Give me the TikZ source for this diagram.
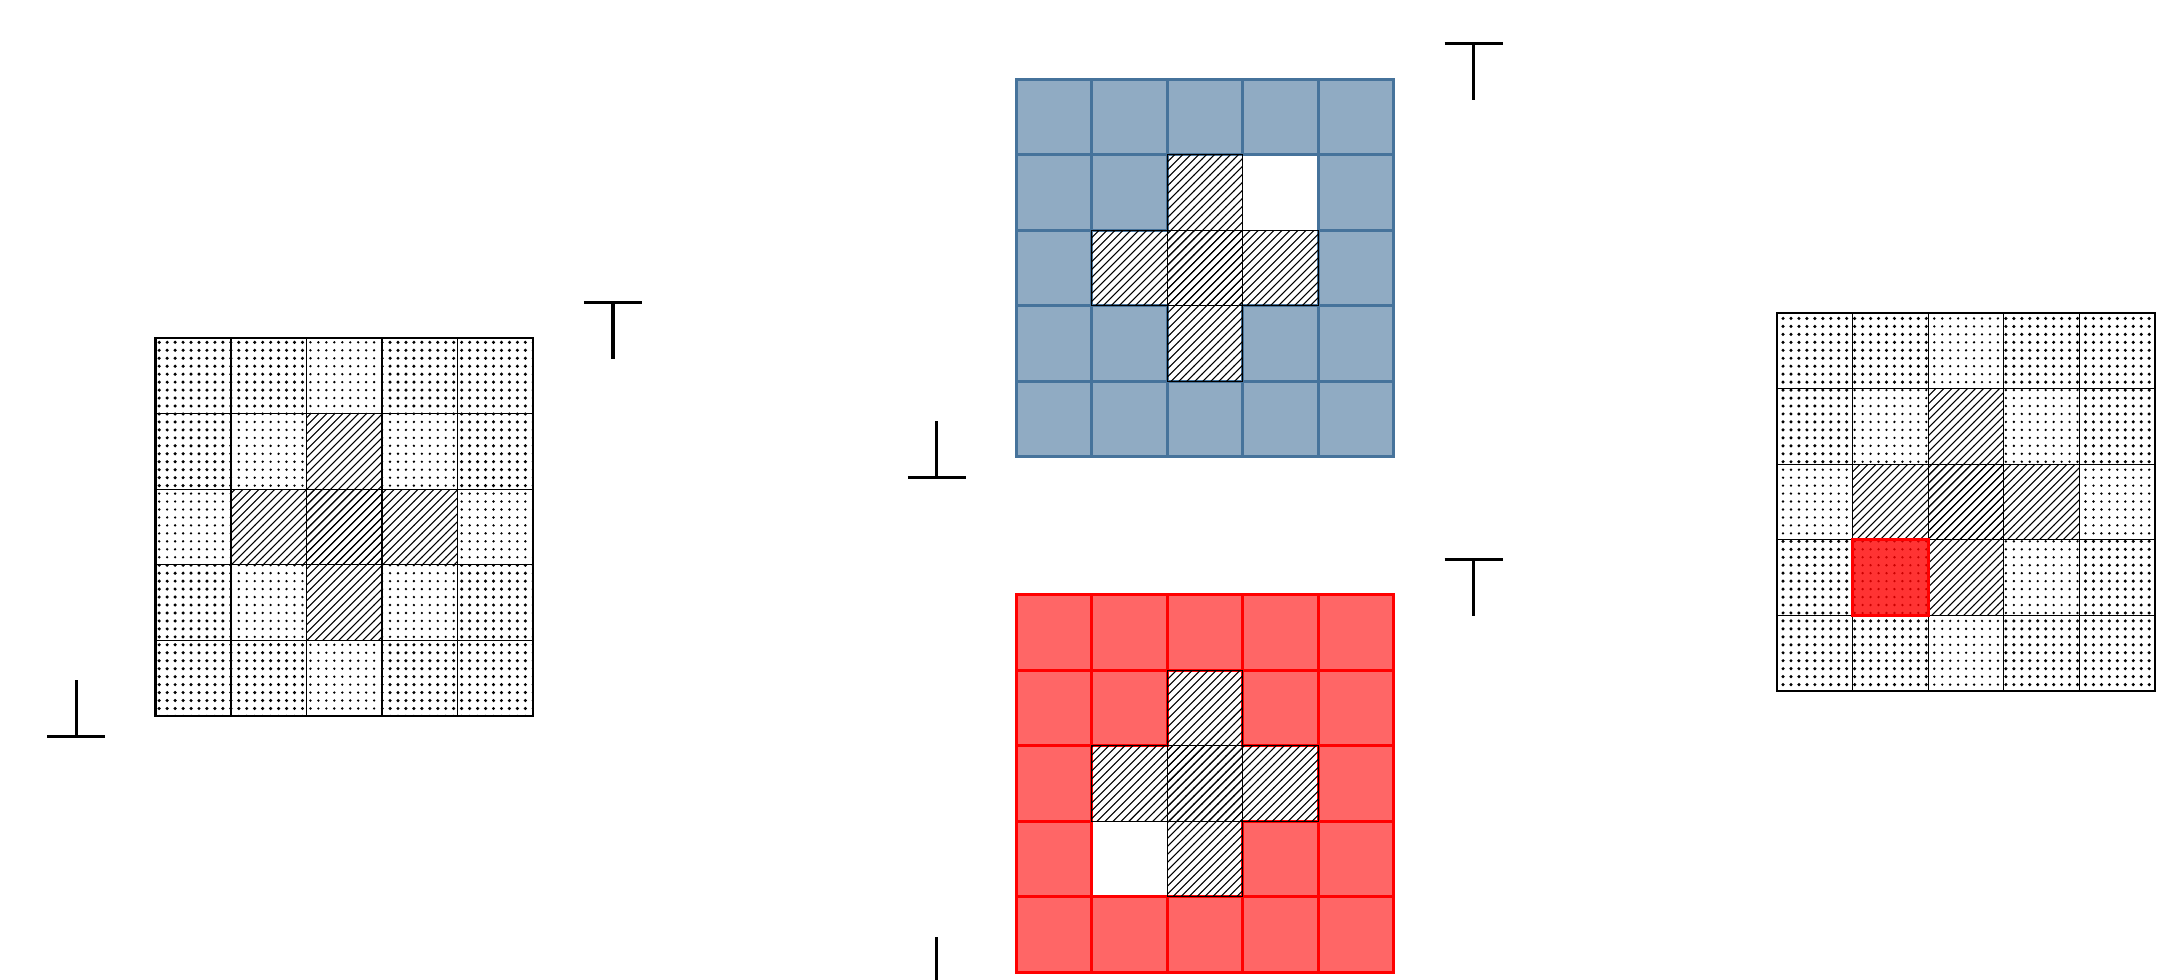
\documentclass[tikz,border=0pt]{standalone}
\usetikzlibrary{patterns}
\definecolor{SteelBlue}{HTML}{46739B}
\pgfdeclarepatternformonly{heavy dots}{\pgfqpoint{-1pt}{-1pt}}{\pgfqpoint{1pt}{1pt}}{\pgfqpoint{3pt}{3pt}}%
  {\pgfpathcircle{\pgfqpoint{0pt}{0pt}}{.65pt}\pgfusepath{fill}}
\pgfdeclarepatternformonly{light dots}{\pgfqpoint{-1pt}{-1pt}}{\pgfqpoint{1pt}{1pt}}{\pgfqpoint{3pt}{3pt}}%
  {\pgfpathcircle{\pgfqpoint{0pt}{0pt}}{.5pt}\pgfusepath{fill}}
% cells as column/row, row 0 on top
\newcommand\farcells{0/0,1/0,3/0,4/0,0/1,4/1,0/3,4/3,0/4,1/4,3/4,4/4}
\newcommand\nearcells{2/0,1/1,3/1,0/2,4/2,1/3,3/3,2/4}
\newcommand\crosscells{2/1,1/2,2/2,3/2,2/3,2/2}

\begin{document}
\begin{tikzpicture}[cell/.style={draw=black,line width=.4pt},
  far/.style={cell,pattern=heavy dots},
  near/.style={cell,pattern=light dots},
  hatch/.style={cell,pattern=north east lines},
  tint/.style={draw=#1,fill=#1,fill opacity=.6,line width=1.1pt},
  tee/.style={line width=1.2pt}]
  \useasboundingbox (0,0) rectangle (28.89,12.97);
  % left: dotted grid
  \begin{scope}[shift={(2.06,3.49)}]
    \foreach \c/\r in \farcells {\draw[far] (\c,{4-\r}) rectangle ++(1,1);}
    \foreach \c/\r in \nearcells {\draw[near] (\c,{4-\r}) rectangle ++(1,1);}
    \foreach \c/\r in \crosscells {\draw[hatch] (\c,{4-\r}) rectangle ++(1,1);}
    \draw[line width=.8pt] (0,0) rectangle (5,5);
    \coordinate (botL) at (-1.05,-0.28);
    \coordinate (topL) at (6.06,5.47);
    \draw[tee] (botL) -- ++(0,0.75) (botL) ++(-0.385,0) -- ++(0.77,0);
    \draw[tee] (topL) -- ++(0,-0.75) (topL) ++(-0.385,0) -- ++(0.77,0);
  \end{scope}
  % middle top: blue grid
  \begin{scope}[shift={(13.46,6.92)}]
    \foreach \c/\r in {0/0,1/0,2/0,3/0,4/0,0/1,1/1,4/1,0/2,4/2,0/3,1/3,3/3,4/3,0/4,1/4,2/4,3/4,4/4}
      {\draw[tint=SteelBlue] (\c,{4-\r}) rectangle ++(1,1);}
    \foreach \c/\r in \crosscells {\draw[hatch] (\c,{4-\r}) rectangle ++(1,1);}
    \coordinate (botB) at (-1.05,-0.28);
    \coordinate (topB) at (6.06,5.47);
    \draw[tee] (botB) -- ++(0,0.75) (botB) ++(-0.385,0) -- ++(0.77,0);
    \draw[tee] (topB) -- ++(0,-0.75) (topB) ++(-0.385,0) -- ++(0.77,0);
  \end{scope}
  % middle bottom: red grid
  \begin{scope}[shift={(13.46,0.09)}]
    \foreach \c/\r in {0/0,1/0,2/0,3/0,4/0,0/1,1/1,3/1,4/1,0/2,4/2,0/3,3/3,4/3,0/4,1/4,2/4,3/4,4/4}
      {\draw[tint=red] (\c,{4-\r}) rectangle ++(1,1);}
    \foreach \c/\r in \crosscells {\draw[hatch] (\c,{4-\r}) rectangle ++(1,1);}
    \coordinate (botR) at (-1.05,-0.28);
    \coordinate (topR) at (6.06,5.47);
    \draw[tee] (botR) -- ++(0,0.75) (botR) ++(-0.385,0) -- ++(0.77,0);
    \draw[tee] (topR) -- ++(0,-0.75) (topR) ++(-0.385,0) -- ++(0.77,0);
  \end{scope}
  % right: dotted grid with one red cell
  \begin{scope}[shift={(23.54,3.82)}]
    \foreach \c/\r in \farcells {\draw[far] (\c,{4-\r}) rectangle ++(1,1);}
    \foreach \c/\r in \nearcells {\draw[near] (\c,{4-\r}) rectangle ++(1,1);}
    \foreach \c/\r in \crosscells {\draw[hatch] (\c,{4-\r}) rectangle ++(1,1);}
    \draw[draw=red,fill=red,fill opacity=.8,line width=1.1pt] (1,1) rectangle ++(1,1);
    \draw[line width=.8pt] (0,0) rectangle (5,5);
  \end{scope}
\end{tikzpicture}
\end{document}
